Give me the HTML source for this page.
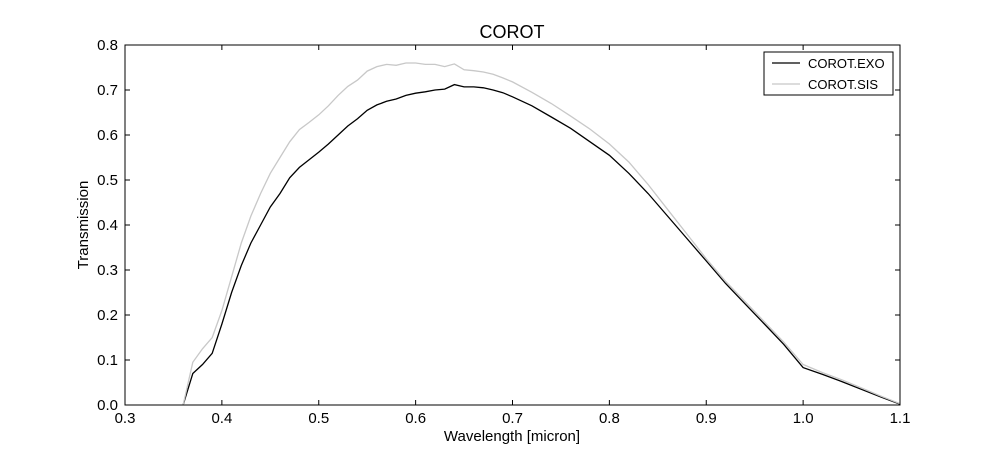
<!DOCTYPE html>
<html><head><meta charset="utf-8"><style>
body{margin:0;background:#fff;}
svg text{font-family:"Liberation Sans",sans-serif;fill:#000;}
</style></head><body>
<svg id="chart" width="1000" height="450" xmlns="http://www.w3.org/2000/svg">
<rect width="1000" height="450" fill="#fff"/>
<text x="512" y="38" font-size="18" text-anchor="middle">COROT</text>
<g id="ticks"></g>
<path id="exo" fill="none" stroke="#000" stroke-width="1.3"/>
<path id="sis" fill="none" stroke="#c8c8c8" stroke-width="1.3"/>
<rect x="125" y="45" width="775" height="360" fill="none" stroke="#000" stroke-width="1"/>
<text x="512" y="441" font-size="15" text-anchor="middle">Wavelength [micron]</text>
<text transform="translate(88,225) rotate(-90)" font-size="15" text-anchor="middle">Transmission</text>
<g>
<rect x="764" y="52" width="129" height="43" fill="#fff" stroke="#000"/>
<line x1="772" y1="63" x2="800" y2="63" stroke="#000" stroke-width="1.3"/>
<text x="808" y="68" font-size="13">COROT.EXO</text>
<line x1="772" y1="84" x2="800" y2="84" stroke="#c8c8c8" stroke-width="1.3"/>
<text x="808" y="89" font-size="13">COROT.SIS</text>
</g>
</svg>
<script>
const wl=[0.36,0.37,0.38,0.39,0.40,0.41,0.42,0.43,0.44,0.45,0.46,0.47,0.48,0.49,0.50,0.51,0.52,0.53,0.54,0.55,0.56,0.57,0.58,0.59,0.60,0.61,0.62,0.63,0.64,0.65,0.66,0.67,0.68,0.69,0.70,0.72,0.74,0.76,0.78,0.80,0.82,0.84,0.86,0.88,0.90,0.92,0.94,0.96,0.98,1.00,1.02,1.04,1.06,1.08,1.10];
const exo=[0,0.07,0.09,0.115,0.18,0.25,0.31,0.36,0.40,0.44,0.47,0.505,0.528,0.545,0.562,0.58,0.60,0.62,0.636,0.655,0.667,0.675,0.68,0.688,0.693,0.696,0.70,0.702,0.712,0.707,0.707,0.705,0.70,0.694,0.685,0.665,0.64,0.615,0.585,0.555,0.515,0.47,0.42,0.37,0.32,0.27,0.225,0.18,0.135,0.083,0.068,0.052,0.035,0.018,0.002];
const sis=[0,0.095,0.125,0.15,0.21,0.285,0.36,0.42,0.47,0.515,0.55,0.585,0.612,0.628,0.645,0.665,0.688,0.708,0.722,0.742,0.752,0.757,0.755,0.76,0.76,0.757,0.757,0.752,0.758,0.745,0.743,0.74,0.735,0.727,0.718,0.695,0.67,0.642,0.613,0.58,0.54,0.49,0.435,0.38,0.325,0.275,0.23,0.185,0.14,0.09,0.072,0.056,0.038,0.02,0.003];
const xTicks=[0.3,0.4,0.5,0.6,0.7,0.8,0.9,1.0,1.1];
const yTicks=[0,0.1,0.2,0.3,0.4,0.5,0.6,0.7,0.8];
const X=v=>125+(v-0.3)/0.8*775, Y=v=>405-v/0.8*360;
const line=ys=>wl.map((w,i)=>(i?'L':'M')+X(w).toFixed(1)+','+Y(ys[i]).toFixed(1)).join('');
document.getElementById('exo').setAttribute('d',line(exo));
document.getElementById('sis').setAttribute('d',line(sis));
const g=document.getElementById('ticks'),NS='http://www.w3.org/2000/svg';
function mk(tag,a){const e=document.createElementNS(NS,tag);for(const k in a)e.setAttribute(k,a[k]);g.appendChild(e);return e;}
xTicks.forEach(t=>{const x=X(t);
 const l1=mk('path',{d:`M${x},405v-5M${x},45v5`,stroke:'#000'});
 
 
 const tx=mk('text',{x:x,y:423,'font-size':15,'text-anchor':'middle'});tx.textContent=t.toFixed(1);
 
 });
yTicks.forEach(t=>{const y=Y(t);
 const l1=mk('path',{d:`M125,${y}h5M900,${y}h-5`,stroke:'#000'});
 
 
 const tx=mk('text',{x:118,y:y+5,'font-size':15,'text-anchor':'end'});tx.textContent=t.toFixed(1);
 
 });
</script>
</body></html>
